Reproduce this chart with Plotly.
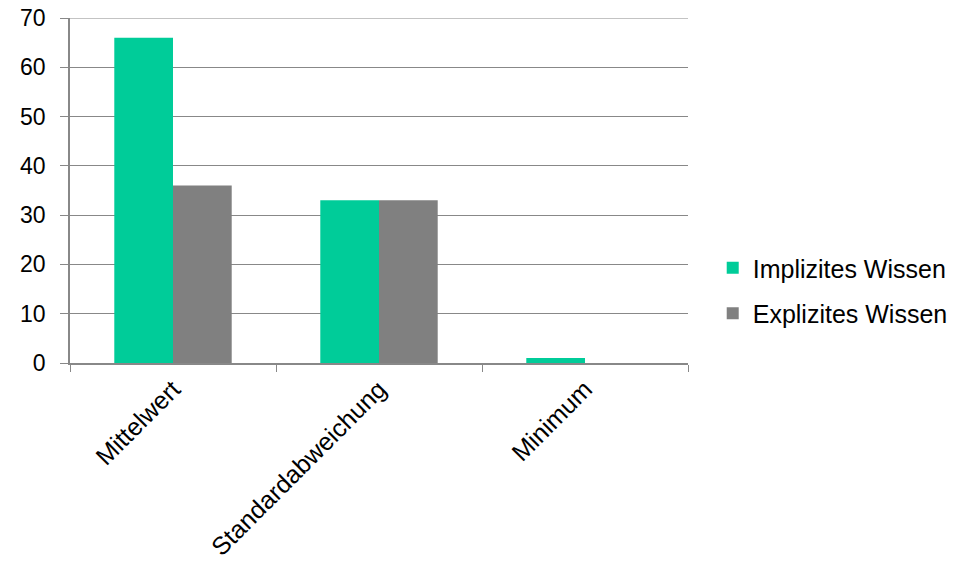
import plotly.graph_objects as go

categories = ["Mittelwert", "Standardabweichung", "Minimum"]
implizit = [66, 33, 1]
explizit = [36, 33, 0]
y_ticks = [0, 10, 20, 30, 40, 50, 60, 70]

fig = go.Figure()
fig.add_trace(go.Bar(name="Implizites Wissen", x=categories, y=implizit,
                     marker=dict(color="#00CC99", line=dict(width=0)),
                     legendgroup="a"))
fig.add_trace(go.Bar(name="Explizites Wissen", x=categories, y=explizit,
                     marker=dict(color="#808080", line=dict(width=0)),
                     legendgroup="b"))

# top gridline at the axis maximum
fig.add_shape(type="line", xref="paper", yref="y", x0=0, x1=1,
              y0=y_ticks[-1], y1=y_ticks[-1],
              line=dict(color="#888888", width=1.2), layer="below")

fig.update_layout(
    width=971, height=571,
    margin=dict(l=70, r=283, t=18, b=208, autoexpand=False),
    paper_bgcolor="white", plot_bgcolor="white",
    barmode="group", bargap=0.43, bargroupgap=0,
    font=dict(family="Liberation Sans, Arial, sans-serif", size=25, color="black"),
    legend=dict(x=1.04, y=0.21, xanchor="left", yanchor="middle",
                tracegroupgap=10, traceorder="grouped",
                font=dict(size=25), itemwidth=30),
    xaxis=dict(showline=True, linecolor="#888888", linewidth=1.5,
               ticks="outside", tickson="boundaries", ticklen=7, tickcolor="#888888",
               tickangle=-45, tickfont=dict(size=25), showgrid=False, automargin=False),
    yaxis=dict(range=[0, 70], tickvals=y_ticks, showline=True, linecolor="#888888",
               linewidth=1.5, ticks="outside", ticklen=8, tickcolor="#888888",
               showgrid=True, gridcolor="#888888", gridwidth=1.2,
               ticklabelstandoff=10, ticklabeloverflow="allow",
               tickfont=dict(size=23), zeroline=False, automargin=False),
)
fig.write_html("out.html",
               config={"displayModeBar": False},
               post_script="document.body.style.margin='0';document.body.style.overflow='hidden';")
